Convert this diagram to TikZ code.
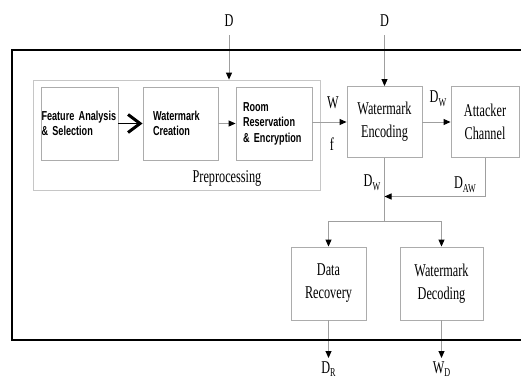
\documentclass[tikz,border=0pt]{standalone}
\usepackage{fontspec}
\usepackage{tikz}
\usetikzlibrary{arrows.meta, positioning}
\newfontfamily\tnr[FakeStretch=0.68]{Liberation Serif}
\newfontfamily\arl[FakeStretch=0.70]{Liberation Sans}
\newcommand{\lowidx}[2]{#1\raisebox{-0.45ex}{\fontsize{12}{12}\selectfont #2}}
\tikzstyle{blk} = [draw=gray!65, line width=0.9pt, minimum height=73pt, inner sep=0pt]
\tikzstyle{sansblk} = [blk, align=left, font=\arl\bfseries\fontsize{13}{15.5}\selectfont]
\tikzstyle{serifblk} = [blk, align=center, font=\tnr\fontsize{18}{23}\selectfont]
\tikzstyle{lbl} = [inner sep=0pt, font=\tnr\fontsize{18}{20}\selectfont]
\tikzstyle{arrow} = [draw=gray!75, line width=0.9pt, -{Triangle[length=7pt,width=6pt,color=black]}]

\begin{document}
\begin{tikzpicture}[x=1pt, y=-1pt]
        \useasboundingbox (0,0) rectangle (521,380);
        \fill[white] (0,0) rectangle (521,380);
        \node[draw=gray!45, line width=0.8pt, minimum width=287pt, minimum height=110pt, inner sep=0pt] (pre) at (176.5,135) {};
        \node[lbl] (prelbl) at (227,178) {Preprocessing};
        \node[sansblk, text width=76pt, inner xsep=0.5pt] (feat) at (79.5,123.5) {Feature Analysis\\\& Selection};
        \node[sansblk, text width=55pt, inner xsep=10pt] (create) at (180.5,123.5) {Watermark\\Creation};
        \node[sansblk, text width=62pt, inner xsep=7pt] (room) at (274,123.5) {Room\\Reservation\\\& Encryption};
        \node[serifblk, minimum width=75pt, minimum height=71pt] (enc) at (384.5,122) {Watermark\\Encoding};
        \node[serifblk, minimum width=68pt, minimum height=71pt] (att) at (485,122) {Attacker\\Channel};
        \node[serifblk, minimum width=75pt] (rec) at (328.5,283.5) {Data\\Recovery};
        \node[serifblk, minimum width=83pt] (dec) at (441.5,283.5) {Watermark\\Decoding};

        \node[lbl] (d1) at (229,21) {D};
        \node[lbl] (d2) at (384.5,21) {D};
        \node[lbl] (w) at (333,103) {W};
        \node[lbl] (f) at (332,144) {f};
        \node[lbl] (dw1) at (438,99) {\lowidx{D}{W}};
        \node[lbl] (dw2) at (372,183) {\lowidx{D}{W}};
        \node[lbl] (daw) at (465,185) {\lowidx{D}{AW}};
        \node[lbl] (dr) at (328.5,369) {\lowidx{D}{R}};
        \node[lbl] (wd) at (441.5,369) {\lowidx{W}{D}};

        \coordinate (join) at (384.5,196.5);
        \coordinate (split) at (384.5,221);
        \coordinate (recout) at (328.5,358);
        \coordinate (decout) at (441.5,358);

        \draw[arrow] ([yshift=-8pt]d1.south) -- (pre.north -| d1);
        \draw[arrow] ([yshift=-8pt]d2.south) -- (enc.north);
        \draw[line width=1pt, -{Straight Barb[length=12pt,width=18pt,line width=3pt]}] (feat.east) -- (create.west);
        \draw[arrow] (create.east) -- (room.west);
        \draw[arrow] (room.east |- enc.west) -- (enc.west);
        \draw[arrow] (enc.east) -- (att.west);
        \draw[draw=gray!75, line width=0.9pt] (enc.south) -- (split);
        \draw[arrow] (att.south) |- (join);
        \draw[arrow] (split) -| (rec.north);
        \draw[arrow] (split) -| (dec.north);
        \draw[arrow] (rec.south) -- (recout);
        \draw[arrow] (dec.south) -- (decout);

        \draw[line width=2.5pt] (521,50) -- (12,50) -- (12,340) -- (521,340);
    \end{tikzpicture}
\end{document}
